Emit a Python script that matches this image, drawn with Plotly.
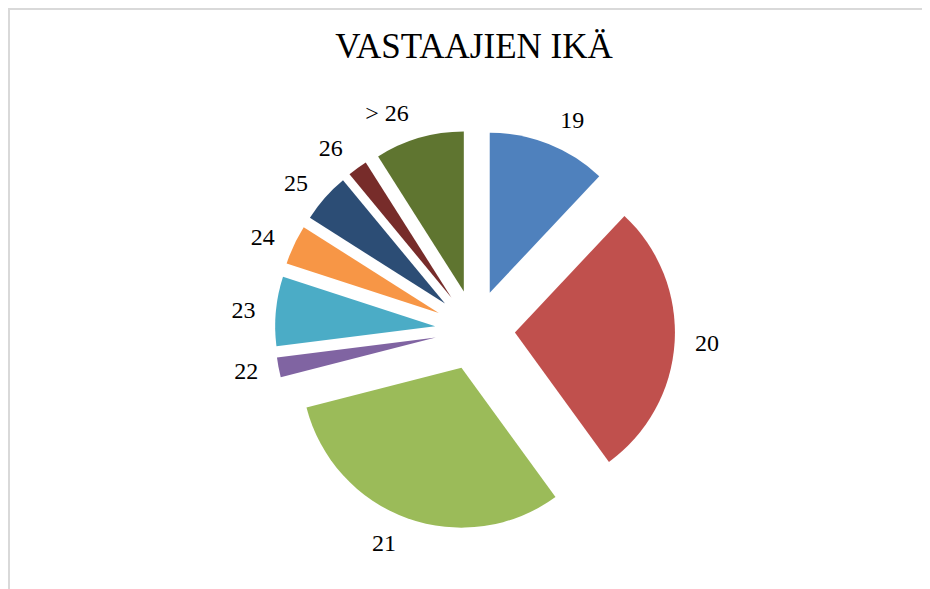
import plotly.graph_objects as go

# vastaajien ikäjakauma (luettu kuvasta)
ages = ['19', '20', '21', '22', '23', '24', '25', '26', '> 26']
counts = [12, 28, 31, 2, 7, 4, 5, 2, 9]
colors = ['#4F81BD', '#C0504D', '#9BBB59', '#8064A2', '#4BACC6',
          '#F79646', '#2C4D75', '#772C2A', '#5F7530']

W, H = 930, 589
cx, cy = 467, 322      # piirakan keskipiste, px
half = 200             # piirakan laatikon puolikas (säde * 1.25)
lab_half = 214         # nimiöpiirakan puolikas
serif = 'Liberation Serif, Times New Roman, serif'


def dom(h):
    return dict(x=[(cx - h) / W, (cx + h) / W],
                y=[1 - (cy + h) / H, 1 - (cy - h) / H])


fig = go.Figure()
# läpinäkyvä piirakka vain nimiöitä varten (hieman kauempana kuin plotlyn oletus)
fig.add_trace(go.Pie(
    labels=ages, values=counts, sort=False, direction='clockwise',
    rotation=0, domain=dom(lab_half),
    marker=dict(colors=['rgba(0,0,0,0)'] * len(ages), line=dict(width=0)),
    textinfo='label', textposition='outside',
    textfont=dict(family=serif, size=24, color='black'),
    outsidetextfont=dict(family=serif, size=24, color='black'),
    showlegend=False, hoverinfo='skip'))

fig.add_trace(go.Pie(
    labels=ages, values=counts, sort=False, direction='clockwise',
    rotation=0, pull=[0.25] * len(ages), domain=dom(half),
    marker=dict(colors=colors, line=dict(width=0)),
    textinfo='none', showlegend=False, hoverinfo='label+value'))

# kehys (vain vasen ja ylä reuna näkyvät)
fig.add_shape(type='rect', xref='paper', yref='paper',
              x0=1 / W, x1=1.05, y0=-0.05, y1=1 - 1 / H,
              line=dict(color='#d9d9d9', width=2))

fig.update_layout(
    width=W, height=H,
    margin=dict(l=0, r=0, t=0, b=0, pad=0, autoexpand=False),
    paper_bgcolor='white', plot_bgcolor='white',
    font=dict(family=serif, color='black'),
    title=dict(text='VASTAAJIEN IKÄ', x=466 / W, xref='paper', xanchor='center',
               y=1 - 38 / H, yref='paper', yanchor='middle',
               font=dict(family=serif, size=35, color='black')),
)

fig.write_html('out.html')
